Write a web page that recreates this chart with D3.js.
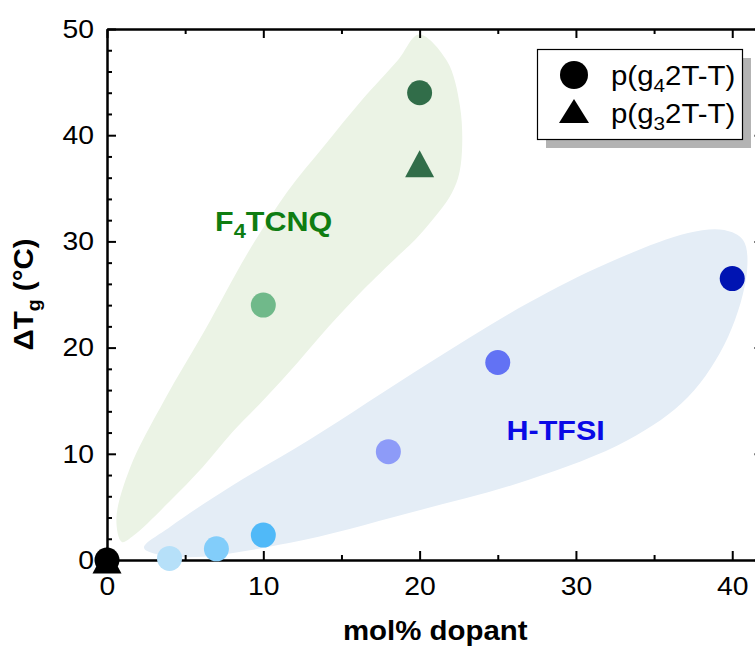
<!DOCTYPE html>
<html>
<head>
<meta charset="utf-8">
<script src="https://cdn.jsdelivr.net/npm/d3@7"></script>
<style>
  html, body { margin: 0; padding: 0; background: #fff; }
  svg { display: block; font-family: "Liberation Sans", Arial, sans-serif; }
</style>
</head>
<body>
<svg id="chart" width="755" height="648"></svg>
<script>
// ---------- data ----------
const xTicks = [0, 10, 20, 30, 40];
const yTicks = [0, 10, 20, 30, 40, 50];
const xMinor = [5, 15, 25, 35];
const yMinor = [2, 4, 6, 8, 12, 14, 16, 18, 22, 24, 26, 28, 32, 34, 36, 38, 42, 44, 46, 48];

// undoped reference
const pristineMol = [0];
const pristineG4 = [0];
const pristineG3 = [0];

// F4TCNQ doped
const f4tcnqMol = [10, 20];
const f4tcnqG4 = [24, 44];
const f4tcnqColors = ["#70b98a", "#316d49"];
const f4tcnqG3Mol = [20];
const f4tcnqG3 = [37.3];
const f4tcnqG3Colors = ["#316d49"];

// H-TFSI doped
const htfsiMol = [4, 7, 10, 18, 25, 40];
const htfsiG4 = [0.15, 1.05, 2.35, 10.2, 18.6, 26.5];
const htfsiColors = ["#b6e0f9", "#82cdfa", "#50b9f8", "#8d9bf8", "#6272f4", "#0014b2"];

// shaded group regions (outline in data units)
const f4tcnqRegionX = [19.96, 21.75, 22.58, 22.71, 22.46, 21.88, 20.92, 19.7, 18.6, 16.3, 14.2, 12.2, 10.1, 8.0, 6.1, 4.0, 1.7, 0.95, 0.6, 1.47, 3.71, 6.27, 9.0, 11.5, 13.9, 16.31, 18.62];
const f4tcnqRegionY = [49.48, 46.99, 42.75, 38.51, 35.97, 34.09, 32.2, 30.13, 28.6, 25.3, 22.0, 18.6, 15.2, 12.0, 8.7, 5.5, 2.3, 1.7, 3.86, 8.66, 15.16, 21.66, 28.9, 34.6, 39.0, 43.31, 47.08];
const htfsiRegionX = [2.37, 4.8, 11.64, 19.32, 26.94, 33.33, 37.17, 39.73, 40.95, 40.69, 39.48, 37.17, 32.05, 26.94, 20.6, 12.92, 7.87, 4.03];
const htfsiRegionY = [1.13, 0.28, 1.6, 4.43, 7.53, 11.3, 15.35, 21.0, 27.31, 30.13, 31.07, 30.79, 27.97, 24.2, 18.55, 11.3, 6.87, 3.11];

const legendLabels = [["p(g", "4", "2T-T)"], ["p(g", "3", "2T-T)"]];

// ---------- scales ----------
const svg = d3.select("#chart");
const x = d3.scaleLinear().domain([0, 42]).range([107, 763.5]);
const y = d3.scaleLinear().domain([0, 50]).range([560, 29]);
const SX = 1.09; // horizontal stretch of the original lettering

// ---------- regions ----------
const region = d3.line().x(d => x(d[0])).y(d => y(d[1])).curve(d3.curveCatmullRomClosed.alpha(0.5));
svg.append("path")
  .attr("d", region(d3.zip(f4tcnqRegionX, f4tcnqRegionY)))
  .attr("fill", "#ebf3e5");
svg.append("path")
  .attr("d", region(d3.zip(htfsiRegionX, htfsiRegionY)))
  .attr("fill", "#e4edf6");

// ---------- axes ----------
function styleAxis(g) {
  g.selectAll("path.domain").attr("stroke", "#000").attr("stroke-width", 2);
  g.selectAll(".tick line").attr("stroke", "#000").attr("stroke-width", 2);
  g.selectAll(".tick text").attr("fill", "#000")
    .style("font-family", "'Liberation Sans', Arial, sans-serif").style("font-size", "26px")
    .attr("transform", `scale(${SX},1)`);
}
const gB = svg.append("g").attr("transform", `translate(0,${y(0)})`)
  .call(d3.axisBottom(x).tickValues(xTicks).tickSize(-9).tickSizeOuter(0).tickPadding(17).tickFormat(d3.format("d")));
styleAxis(gB);
const gBm = svg.append("g").attr("transform", `translate(0,${y(0)})`)
  .call(d3.axisBottom(x).tickValues(xMinor).tickSize(-5).tickSizeOuter(0).tickFormat(""));
styleAxis(gBm);
const gT = svg.append("g").attr("transform", `translate(0,${y(50)})`)
  .call(d3.axisTop(x).tickValues(xTicks).tickSize(-9).tickSizeOuter(0).tickFormat(""));
styleAxis(gT);
const gTm = svg.append("g").attr("transform", `translate(0,${y(50)})`)
  .call(d3.axisTop(x).tickValues(xMinor).tickSize(-5).tickSizeOuter(0).tickFormat(""));
styleAxis(gTm);
const gL = svg.append("g").attr("transform", `translate(${x(0)},0)`)
  .call(d3.axisLeft(y).tickValues(yTicks).tickSize(-9).tickSizeOuter(0).tickPadding(13).tickFormat(d3.format("d")));
styleAxis(gL);
// left labels: stretch about their right edge
gL.selectAll(".tick text").attr("transform", null).each(function () {
  const t = d3.select(this);
  const xx = +t.attr("x");
  t.attr("x", xx / SX).attr("transform", `scale(${SX},1)`);
});
const gLm = svg.append("g").attr("transform", `translate(${x(0)},0)`)
  .call(d3.axisLeft(y).tickValues(yMinor).tickSize(-5).tickSizeOuter(0).tickFormat(""));
styleAxis(gLm);
const gR = svg.append("g").attr("transform", `translate(${x(42)},0)`)
  .call(d3.axisRight(y).tickValues(yTicks).tickSize(-9).tickSizeOuter(0).tickFormat(""));
styleAxis(gR);
const gRm = svg.append("g").attr("transform", `translate(${x(42)},0)`)
  .call(d3.axisRight(y).tickValues(yMinor).tickSize(-5).tickSizeOuter(0).tickFormat(""));
styleAxis(gRm);

// ---------- axis titles ----------
svg.append("g")
  .attr("transform", `translate(${(x(0) + x(42)) / 2},640) scale(${SX},1)`)
  .append("text")
  .attr("text-anchor", "middle")
  .style("font-size", "27px").style("font-weight", "bold")
  .text("mol% dopant");

const yt = svg.append("g")
  .attr("transform", `translate(33,${(y(0) + y(50)) / 2}) rotate(-90) scale(${SX},1)`)
  .append("text")
  .attr("text-anchor", "middle")
  .style("font-size", "27px").style("font-weight", "bold");
yt.append("tspan").text("ΔT");
yt.append("tspan").attr("dy", 7).style("font-size", "18px").text("g");
yt.append("tspan").attr("dy", -7).text(" (°C)");

// ---------- markers ----------
function triPath(w, h) {
  return `M0,${-h / 2}L${w / 2},${h / 2}L${-w / 2},${h / 2}Z`;
}
const R = 12.5;

// H-TFSI circles
svg.append("g").selectAll("circle").data(d3.zip(htfsiMol, htfsiG4, htfsiColors)).join("circle")
  .attr("cx", d => x(d[0])).attr("cy", d => y(d[1])).attr("r", R).attr("fill", d => d[2]);

// F4TCNQ circles
svg.append("g").selectAll("circle").data(d3.zip(f4tcnqMol, f4tcnqG4, f4tcnqColors)).join("circle")
  .attr("cx", d => x(d[0])).attr("cy", d => y(d[1])).attr("r", R).attr("fill", d => d[2]);
// F4TCNQ triangles
svg.append("g").selectAll("path").data(d3.zip(f4tcnqG3Mol, f4tcnqG3, f4tcnqG3Colors)).join("path")
  .attr("transform", d => `translate(${x(d[0])},${y(d[1])})`)
  .attr("d", triPath(29, 27)).attr("fill", d => d[2]);

// pristine (black)
svg.append("g").selectAll("path").data(d3.zip(pristineMol, pristineG3)).join("path")
  .attr("transform", d => `translate(${x(d[0])},${y(d[1])})`)
  .attr("d", triPath(29, 27)).attr("fill", "#000");
svg.append("g").selectAll("circle").data(d3.zip(pristineMol, pristineG4)).join("circle")
  .attr("cx", d => x(d[0])).attr("cy", d => y(d[1])).attr("r", R).attr("fill", "#000");

// ---------- group labels ----------
const f4 = svg.append("g")
  .attr("transform", `translate(${x(6.91)},${y(31.0)}) scale(${SX},1)`)
  .append("text")
  .attr("fill", "#0f7d12")
  .style("font-size", "28px").style("font-weight", "bold");
f4.append("tspan").text("F");
f4.append("tspan").attr("dy", 7).style("font-size", "20px").text("4");
f4.append("tspan").attr("dy", -7).text("TCNQ");

svg.append("g")
  .attr("transform", `translate(${x(25.56)},${y(11.3)}) scale(${SX},1)`)
  .append("text")
  .attr("fill", "#0a0ae6")
  .style("font-size", "28px").style("font-weight", "bold")
  .text("H-TFSI");

// ---------- legend ----------
const lg = svg.append("g");
lg.append("rect").attr("x", 546).attr("y", 58).attr("width", 205).attr("height", 90).attr("fill", "#b3b3b3");
lg.append("rect").attr("x", 537.5).attr("y", 49.5).attr("width", 205).attr("height", 90)
  .attr("fill", "#fff").attr("stroke", "#000").attr("stroke-width", 1.2);
lg.append("circle").attr("cx", 574).attr("cy", 75).attr("r", 14).attr("fill", "#000");
lg.append("path").attr("transform", "translate(574,111)").attr("d", triPath(30, 24)).attr("fill", "#000");
legendLabels.forEach((parts, i) => {
  const t = lg.append("g").attr("transform", `translate(611,${85 + i * 37.5}) scale(${SX},1)`)
    .append("text").style("font-size", "27px");
  t.append("tspan").text(parts[0]);
  t.append("tspan").attr("dy", 7).style("font-size", "19px").text(parts[1]);
  t.append("tspan").attr("dy", -7).text(parts[2]);
});
</script>
</body>
</html>
